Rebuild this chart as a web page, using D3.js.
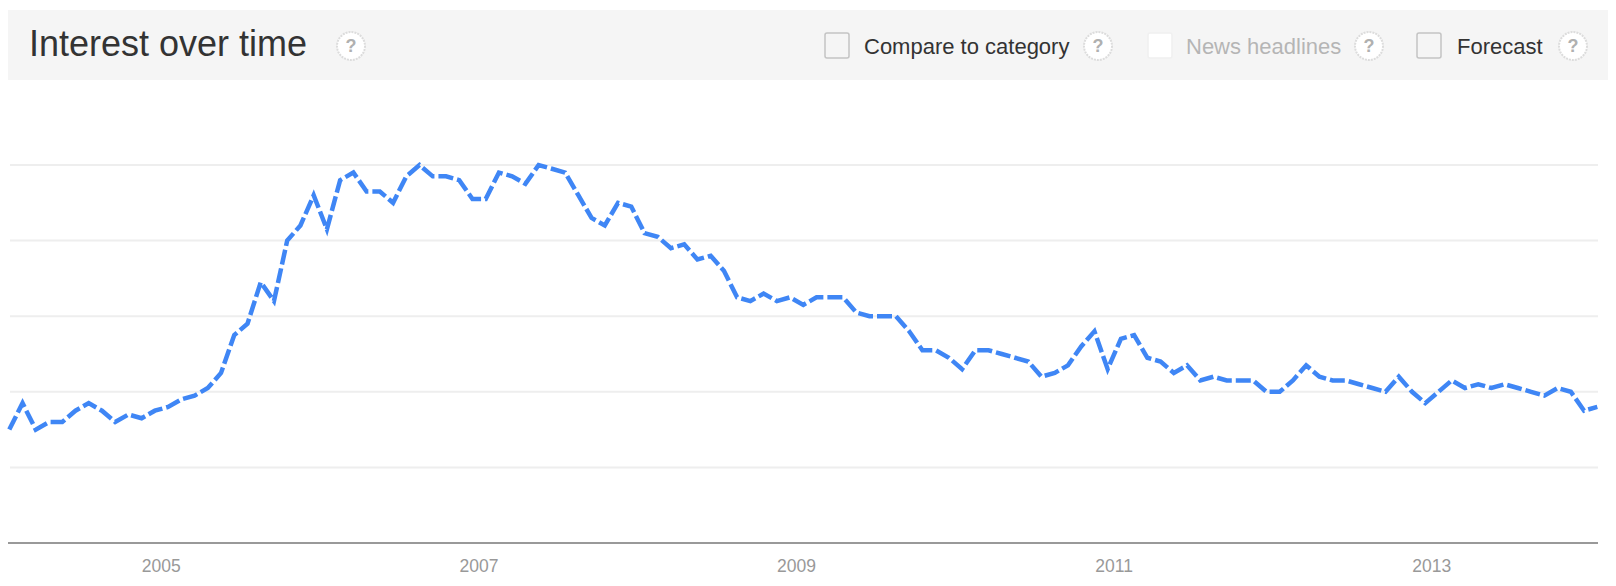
<!DOCTYPE html>
<html>
<head>
<meta charset="utf-8">
<title>Interest over time</title>
<script src="https://d3js.org/d3.v7.min.js"></script>
<style>
  html, body { margin: 0; padding: 0; background: #fff; }
  svg { display: block; }
  text { font-family: "Liberation Sans", Arial, sans-serif; }
  .grid line { stroke: #eeeeee; stroke-width: 2; }
  .x path, .x line { display: none; }
  .x text { font-size: 17.5px; fill: #999; }
  .help circle { fill: #fff; stroke: #dcdcdc; stroke-width: 2; stroke-dasharray: 2 1; }
  .help text { font-size: 18px; font-weight: bold; fill: #b0b0b0; text-anchor: middle; }
</style>
</head>
<body>
<script>
// monthly values, Jan 2004 to Jan 2014
var values = [
  30, 37, 30, 32, 32, 35, 37, 35, 32, 34, 33, 35,
  36, 38, 39, 41, 45, 55, 58, 69, 64, 80, 84, 92,
  83, 96, 98, 93, 93, 90, 97, 100, 97, 97, 96, 91,
  91, 98, 97, 95, 100, 99, 98, 92, 86, 84, 90, 89,
  82, 81, 78, 79, 75, 76, 72, 65, 64, 66, 64, 65,
  63, 65, 65, 65, 61, 60, 60, 60, 56, 51, 51, 49,
  46, 51, 51, 50, 49, 48, 44, 45, 47, 52, 56, 46,
  54, 55, 49, 48, 45, 47, 43, 44, 43, 43, 43, 40,
  40, 43, 47, 44, 43, 43, 42, 41, 40, 44, 40, 37,
  40, 43, 41, 42, 41, 42, 41, 40, 39, 41, 40, 35,
  36
];
var months = d3.range(values.length);
var gridValues = [20, 40, 60, 80, 100];
var yearLabels = ["2005", "2007", "2009", "2011", "2013"];
var yearTicks = [11.45, 35.45, 59.45, 83.45, 107.45];
var title = "Interest over time";
var options = ["Compare to category", "News headlines", "Forecast"];

var width = 1616, height = 586;

var svg = d3.select("body").append("svg")
  .attr("width", width)
  .attr("height", height);

var x = d3.scaleLinear().domain([0, 120]).range([9.3, 1597.3]);
var y = d3.scaleLinear().domain([0, 100]).range([543, 165]);

// header band
svg.append("rect")
  .attr("x", 8).attr("y", 10)
  .attr("width", 1600).attr("height", 70)
  .attr("fill", "#f5f5f5");

svg.append("text")
  .attr("x", 29).attr("y", 56)
  .attr("font-size", 36)
  .attr("fill", "#333")
  .text(title);

function helpIcon(cx) {
  var g = svg.append("g").attr("class", "help")
    .attr("transform", "translate(" + cx + ",46)");
  g.append("circle").attr("r", 14);
  g.append("text").attr("y", 6).text("?");
}
helpIcon(351);

// checkbox, label, help
var boxX = [825, 1148, 1417];
var textX = [864, 1186, 1457];
var helpX = [1098, 1369, 1573];
options.forEach(function(d, i) {
  var disabled = i == 1;
  svg.append("rect")
    .attr("x", boxX[i]).attr("y", 33)
    .attr("width", 24).attr("height", 25).attr("rx", 2)
    .attr("fill", disabled ? "#fff" : "#f5f5f5")
    .attr("stroke", disabled ? "#f0f0f0" : "#c4c4c4")
    .attr("stroke-width", 1.5);
  svg.append("text")
    .attr("x", textX[i]).attr("y", 54)
    .attr("font-size", 22)
    .attr("fill", disabled ? "#b5b5b5" : "#333")
    .text(d);
  helpIcon(helpX[i]);
});

// grid
svg.append("g").attr("class", "grid")
  .selectAll("line")
  .data(gridValues)
  .enter().append("line")
  .attr("x1", 10).attr("x2", 1598)
  .attr("y1", function(d) { return y(d); })
  .attr("y2", function(d) { return y(d); });

// baseline
svg.append("line")
  .attr("x1", 8).attr("x2", 1598)
  .attr("y1", y(0)).attr("y2", y(0))
  .attr("stroke", "#999")
  .attr("stroke-width", 2);

var xAxis = d3.axisBottom(x)
  .tickValues(yearTicks)
  .tickSize(0)
  .tickPadding(17)
  .tickFormat(function(d, i) { return yearLabels[i]; });

svg.append("g")
  .attr("class", "x")
  .attr("transform", "translate(0," + y(0) + ")")
  .call(xAxis);

var line = d3.line()
  .x(function(d) { return x(d); })
  .y(function(d) { return y(values[d]); });

svg.append("path")
  .datum(months)
  .attr("fill", "none")
  .attr("stroke", "#3f86f5")
  .attr("stroke-width", 4.5)
  .attr("stroke-linejoin", "miter")
  .attr("stroke-dasharray", "15,4")
  .attr("d", line);
</script>
</body>
</html>
